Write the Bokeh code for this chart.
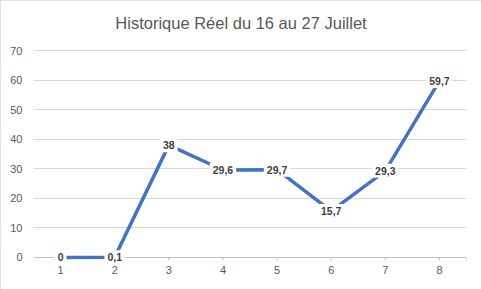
import math
from bokeh.plotting import figure
from bokeh.models import ColumnDataSource, Label, FixedTicker, Range1d, Span
from bokeh.core.properties import value
from bokeh.embed import file_html
from bokeh.resources import INLINE

# Data
categories = [1, 2, 3, 4, 5, 6, 7, 8]
values = [0, 0.1, 38, 29.6, 29.7, 15.7, 29.3, 59.7]
labels = [("%g" % v).replace(".", ",") for v in values]
y_ticks = [0, 10, 20, 30, 40, 50, 60, 70]
title_text = "Historique Réel du 16 au 27 Juillet"

FONT = "Liberation Sans"
GRAY = "#595959"
AXIS = "#BFBFBF"

src = ColumnDataSource(dict(x=categories, y=values, lab=labels))

p = figure(width=481, height=289, output_backend="svg", toolbar_location=None,
           x_range=Range1d(0.5, 8.5), y_range=Range1d(-2.37, 85.22),
           min_border_left=33, min_border_right=15, min_border_top=5, min_border_bottom=25,
           styles={"outline": "1px solid #D9D9D9", "outline-offset": "-1px"})

p.outline_line_color = None
p.background_fill_color = "white"
p.border_fill_color = "white"

# title (inside the extended frame, above the 70 gridline)
p.add_layout(Label(x=4.5, y=70, text=title_text, x_offset=-9, y_offset=28,
                   text_align="center", text_baseline="middle",
                   text_font=FONT, text_font_size="16.5px",
                   text_color=GRAY))

# grid
p.xgrid.grid_line_color = None
p.ygrid.grid_line_color = "#D9D9D9"
p.ygrid.grid_line_width = 1

# y axis
p.yaxis.ticker = FixedTicker(ticks=y_ticks)
p.yaxis.axis_line_color = None
p.yaxis.major_tick_line_color = None
p.yaxis.minor_tick_line_color = None
p.yaxis.major_tick_out = 0
p.yaxis.major_tick_in = 0
p.yaxis.major_label_standoff = 11
p.yaxis.major_label_text_font = FONT
p.yaxis.major_label_text_font_size = "11px"
p.yaxis.major_label_text_color = GRAY

# x axis: labels only; line and ticks drawn at y = 0
p.xaxis.ticker = FixedTicker(ticks=categories)
p.xaxis.axis_line_color = None
p.xaxis.major_tick_line_color = None
p.xaxis.minor_tick_line_color = None
p.xaxis.major_tick_out = 0
p.xaxis.major_tick_in = 0
p.xaxis.major_label_standoff = 1
p.xaxis.major_label_text_font = FONT
p.xaxis.major_label_text_font_size = "11px"
p.xaxis.major_label_text_color = GRAY

p.add_layout(Span(location=0, dimension="width", line_color=AXIS, line_width=1,
                  level="underlay"))
tick_x = categories + [8.5]
p.ray(x=tick_x, y=[0] * len(tick_x), length=3, length_units="screen",
      angle=-math.pi / 2, line_color=AXIS, line_width=1)

p.line("x", "y", source=src, line_color="#4472C4", line_width=3.5,
       line_cap="round", line_join="round")

p.text(x="x", y="y", text="lab", source=src,
       text_align="center", text_baseline="middle",
       text_font=value(FONT), text_font_size=value("10.5px"),
       text_font_style="bold", text_color="#404040",
       background_fill_color="white", background_fill_alpha=1.0,
       padding=3)

open("out.html", "w").write(file_html(p, INLINE))
